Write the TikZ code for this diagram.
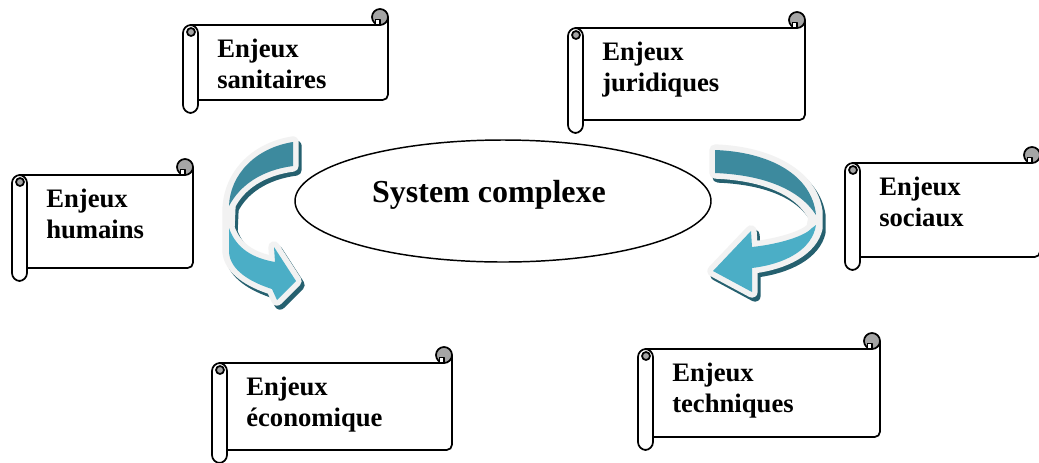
\documentclass[tikz,border=0pt]{standalone}
\usepackage{fontspec}
\setmainfont{Liberation Serif}
\usetikzlibrary{calc}
\definecolor{arrowDark}{RGB}{61,138,158}
\definecolor{arrowLight}{RGB}{75,174,198}
\definecolor{arrowShade}{RGB}{37,96,111}
\definecolor{arrowRim}{RGB}{242,242,242}
\definecolor{rollGray}{RGB}{165,165,165}

\tikzset{
  scrollline/.style={draw=black,line width=1.3pt,line join=round},
  scrolltext/.style={anchor=north west,align=left,inner sep=0pt,
    font=\bfseries\fontsize{20}{23.25}\selectfont},
  rimline/.style={draw=arrowRim,fill=arrowRim,line width=8.5pt,line join=round},
  shadeline/.style={draw=arrowShade,fill=arrowShade,line width=8.5pt,line join=round}
}

% scroll: name, left, top, right, bottom, text
\newcommand{\scrollbox}[6]{%
  % body
  \fill[white] ({#2+14},#3) rectangle (#4,#5);
  \draw[scrollline] ({#2+7},#3) -- ({#4-8},#3);
  \draw[scrollline,rounded corners=4] (#4,{#3-8}) -- (#4,#5) -- ({#2+14},#5);
  % top roll
  \draw[scrollline,fill=rollGray] ({#4-8},{#3-8}) circle[radius=8];
  \draw[scrollline,fill=white] ({#4-12.5},{#3-5.5}) rectangle ({#4-8},#3);
  % left tube
  \draw[scrollline,fill=white,rounded corners=6] (#2,#3) rectangle ({#2+15},{#5+13});
  \draw[scrollline,fill=rollGray] ({#2+8},{#3+7}) circle[radius=4];
  \node[scrolltext] (#1) at ({#2+34},{#3+14}) {#6};
}

\begin{document}
\begin{tikzpicture}[x=0.75pt,y=-0.75pt]
  \useasboundingbox (0,0) rectangle (1039,462);
  \fill[white] (0,0) rectangle (1039,462);

  % left arrow
  \begin{scope}[shift={(3,4)}]
    \path[shadeline] (293,142) .. controls (255,148) and (229,175) .. (228,210)
      -- (228,252) .. controls (230,270) and (250,282) .. (272,289)
      -- (277,300) -- (296,281) -- (274,247) -- (275,262)
      .. controls (252,258) and (236,248) .. (229,228) -- (230,205)
      .. controls (240,185) and (262,170) .. (293,166) -- cycle;
  \end{scope}
  \path[rimline] (293,142) .. controls (255,148) and (229,175) .. (228,210)
    -- (228,252) .. controls (230,270) and (250,282) .. (272,289)
    -- (277,300) -- (296,281) -- (274,247) -- (275,262)
    .. controls (252,258) and (236,248) .. (229,228) -- (230,205)
    .. controls (240,185) and (262,170) .. (293,166) -- cycle;
  \fill[arrowDark] (293,142) .. controls (255,148) and (230,175) .. (229,206)
    .. controls (240,185) and (262,170) .. (293,166) -- cycle;
  \fill[arrowLight] (229,228) .. controls (236,248) and (252,258) .. (275,262)
    -- (274,247) -- (296,281) -- (277,300) -- (272,289)
    .. controls (250,282) and (230,270) .. (229,252) -- cycle;

  % right arrow
  \begin{scope}[shift={(3,4)}]
    \path[shadeline] (715,150) .. controls (770,152) and (812,175) .. (817,212)
      -- (817,228) .. controls (812,250) and (785,264) .. (752,268)
      -- (752,292) -- (713,271) -- (751,231) -- (752,247)
      .. controls (780,244) and (805,236) .. (812,228) -- (814,217)
      .. controls (800,190) and (765,175) .. (715,173) -- cycle;
  \end{scope}
  \path[rimline] (715,150) .. controls (770,152) and (812,175) .. (817,212)
    -- (817,228) .. controls (812,250) and (785,264) .. (752,268)
    -- (752,292) -- (713,271) -- (751,231) -- (752,247)
    .. controls (780,244) and (805,236) .. (812,228) -- (814,217)
    .. controls (800,190) and (765,175) .. (715,173) -- cycle;
  \fill[arrowDark] (715,150) .. controls (770,152) and (812,175) .. (816,215)
    .. controls (800,190) and (765,175) .. (715,173) -- cycle;
  \fill[arrowLight] (816,225) .. controls (812,250) and (785,264) .. (752,268)
    -- (752,292) -- (713,271) -- (751,231) -- (752,247)
    .. controls (780,244) and (805,236) .. (812,228) -- cycle;

  % centre
  \draw[line width=1.1pt] (503,201) ellipse [x radius=208, y radius=61];
  \node[anchor=base,inner sep=0pt,font=\bfseries\fontsize{24}{28}\selectfont]
    (sys) at (489,202) {System complexe};

  % scrolls
  \scrollbox{san}{183}{25}{388}{100}{Enjeux\\sanitaires}
  \scrollbox{jur}{568}{28}{805}{120}{Enjeux\\juridiques}
  \scrollbox{hum}{12}{175}{193}{268}{Enjeux\\humains}
  \scrollbox{soc}{845}{163}{1040}{257}{Enjeux\\sociaux}
  \scrollbox{eco}{212}{363}{452}{450}{Enjeux\\économique}
  \scrollbox{tec}{638}{349}{880}{437}{Enjeux\\techniques}
\end{tikzpicture}
\end{document}
